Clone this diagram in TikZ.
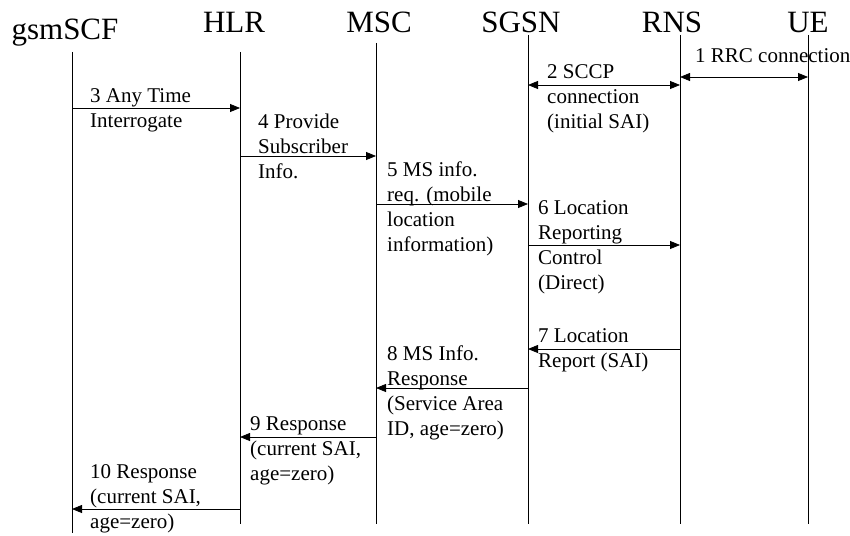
\documentclass[tikz,border=0pt]{standalone}
\usepackage{fontspec}
\setmainfont{Liberation Serif}
\usetikzlibrary{arrows.meta}
\begin{document}
\begin{tikzpicture}[x=1pt,y=-1pt]
      \tikzstyle{every node}=[inner sep=0pt]
      \tikzstyle{entity}=[font=\fontsize{31}{31}\selectfont,anchor=base]
      \tikzstyle{life}=[line width=0.8pt]
      \tikzstyle{msg}=[line width=0.8pt,-{Triangle[length=10pt,width=8pt]}]
      \tikzstyle{both}=[line width=0.8pt,{Triangle[length=10pt,width=8pt]}-{Triangle[length=10pt,width=8pt]}]
      \tikzstyle{lbl}=[font=\fontsize{21}{25}\selectfont,align=left,anchor=base west]
      \useasboundingbox (0,0) rectangle (850,535);
      \node[entity] (gsmSCF) at (65,40) {gsmSCF};
      \node[entity] (HLR) at (234,33) {HLR};
      \node[entity] (MSC) at (379,33) {MSC};
      \node[entity] (SGSN) at (521,33) {SGSN};
      \node[entity] (RNS) at (672,33) {RNS};
      \node[entity] (UE) at (808,33) {UE};
      \coordinate (gsm) at (72,52);  \coordinate (gsm-end) at (72,533);
      \coordinate (hlr) at (240,52); \coordinate (hlr-end) at (240,524);
      \coordinate (msc) at (376,43); \coordinate (msc-end) at (376,524);
      \coordinate (sgsn) at (528,35); \coordinate (sgsn-end) at (528,524);
      \coordinate (rns) at (680,35); \coordinate (rns-end) at (680,524);
      \coordinate (ue) at (808,35);  \coordinate (ue-end) at (808,524);
      \foreach \l in {gsm,hlr,msc,sgsn,rns,ue}
        \draw[life] (\l) -- (\l-end);
      \foreach \r/\y in {1/77,2/85,3/108,4/156,5/204,6/245,7/349,8/388,9/437,10/509}
        \coordinate (r\r) at (0,\y);
      \draw[both] (rns |- r1) -- (ue |- r1);
      \draw[both] (sgsn |- r2) -- (rns |- r2);
      \draw[msg] (gsm |- r3) -- (hlr |- r3);
      \draw[msg] (hlr |- r4) -- (msc |- r4);
      \draw[msg] (msc |- r5) -- (sgsn |- r5);
      \draw[msg] (sgsn |- r6) -- (rns |- r6);
      \draw[msg] (rns |- r7) -- (sgsn |- r7);
      \draw[msg] (sgsn |- r8) -- (msc |- r8);
      \draw[msg] (msc |- r9) -- (hlr |- r9);
      \draw[msg] (hlr |- r10) -- (gsm |- r10);
      \node[lbl] (l1) at (695,63) {1 RRC connection};
      \node[lbl] (l2) at (547,128) {2 SCCP\\connection\\(initial SAI)};
      \node[lbl] (l3) at (90,127) {3 Any Time\\Interrogate};
      \node[lbl] (l4) at (258,178) {4 Provide\\Subscriber\\Info.};
      \node[lbl] (l5) at (387,251) {5 MS info.\\req. (mobile\\location\\information)};
      \node[lbl] (l6) at (538,289) {6 Location\\Reporting\\Control\\(Direct)};
      \node[lbl] (l7) at (538,367) {7 Location\\Report (SAI)};
      \node[lbl] (l8) at (387,435) {8 MS Info.\\Response\\(Service Area\\ID, age=zero)};
      \node[lbl] (l9) at (250,480) {9 Response\\(current SAI,\\age=zero)};
      \node[lbl] (l10) at (90,528) {10 Response\\(current SAI,\\age=zero)};
\end{tikzpicture}
\end{document}
